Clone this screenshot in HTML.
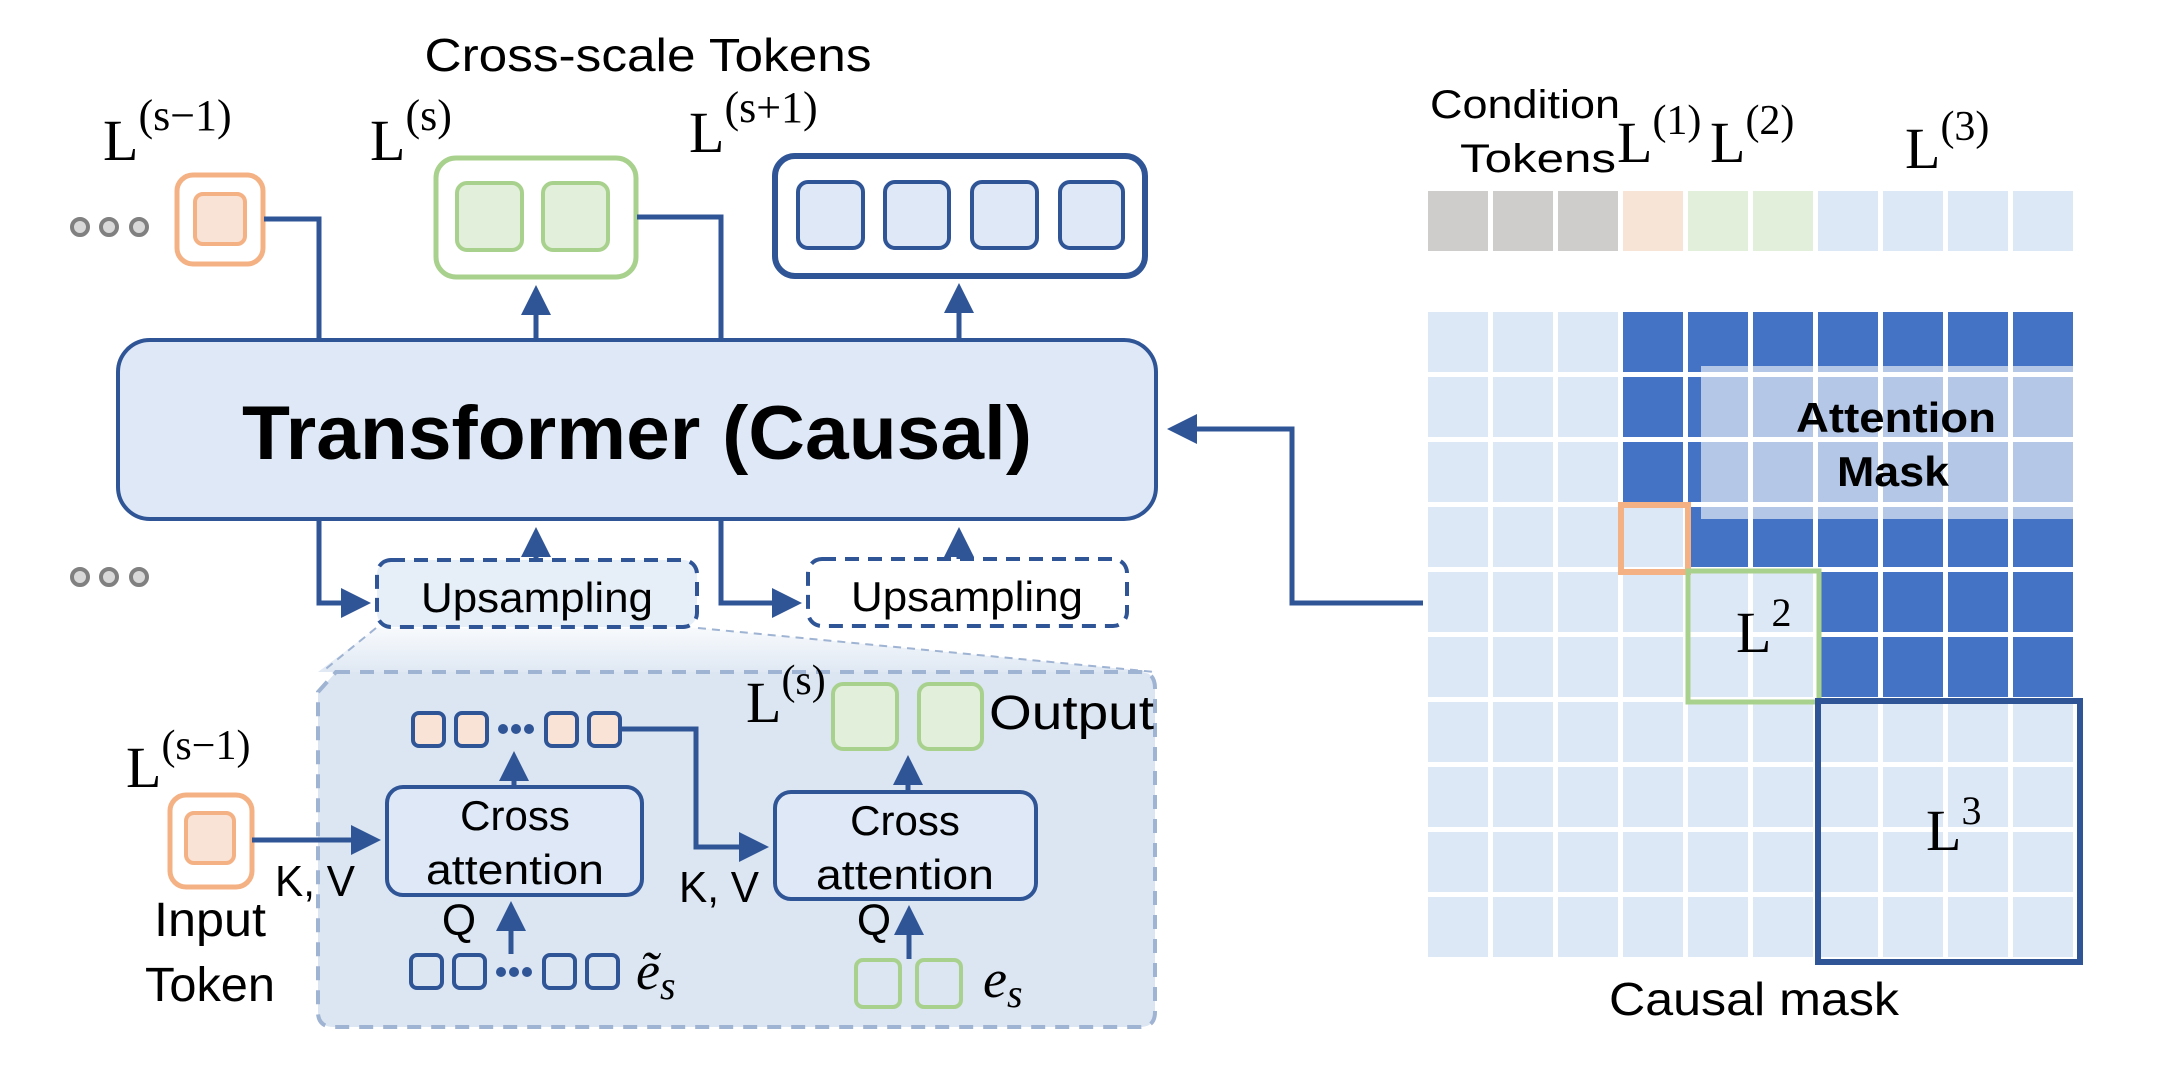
<!DOCTYPE html>
<html><head><meta charset="utf-8"><style>html,body{margin:0;padding:0;background:#fff}svg{display:block}</style></head>
<body>
<svg width="2163" height="1090" viewBox="0 0 2163 1090" xmlns="http://www.w3.org/2000/svg" font-family="Liberation Sans, sans-serif">
<defs>
<marker id="a" markerWidth="6" markerHeight="6" refX="5" refY="3" orient="auto" markerUnits="strokeWidth"><path d="M0,0 L6,3 L0,6 z" fill="#2f5597"/></marker>
<linearGradient id="fade" x1="0" y1="0" x2="0" y2="1"><stop offset="0" stop-color="#dce6f2" stop-opacity="0.2"/><stop offset="1" stop-color="#dce6f2" stop-opacity="0.9"/></linearGradient>
</defs>

<text x="648" y="71" font-size="46" text-anchor="middle" textLength="447" lengthAdjust="spacingAndGlyphs">Cross-scale Tokens</text>

<g font-family="Liberation Serif, serif">
<text x="103" y="160" font-size="58">L<tspan font-size="44" dy="-30">(s−1)</tspan></text>
<text x="370" y="160" font-size="58">L<tspan font-size="44" dy="-30">(s)</tspan></text>
<text x="689" y="152" font-size="58">L<tspan font-size="44" dy="-30">(s+1)</tspan></text>
</g>

<g fill="#d9d9d9" stroke="#808080" stroke-width="4">
<circle cx="80" cy="227" r="8"/><circle cx="109" cy="227" r="8"/><circle cx="139" cy="227" r="8"/>
<circle cx="80" cy="577" r="8"/><circle cx="109" cy="577" r="8"/><circle cx="139" cy="577" r="8"/>
</g>

<rect x="177" y="175" width="86" height="89" rx="16" fill="#fff" stroke="#f4b183" stroke-width="5"/>
<rect x="195" y="194" width="50" height="50" rx="8" fill="#f8e3d6" stroke="#f4b183" stroke-width="4"/>
<rect x="436" y="158" width="200" height="119" rx="20" fill="#fff" stroke="#a9d18e" stroke-width="5"/>
<rect x="457" y="183" width="65" height="67" rx="10" fill="#e2efda" stroke="#a9d18e" stroke-width="4"/>
<rect x="543" y="183" width="65" height="67" rx="10" fill="#e2efda" stroke="#a9d18e" stroke-width="4"/>
<rect x="775" y="156" width="370" height="120" rx="20" fill="#fff" stroke="#2f5597" stroke-width="6"/>
<g fill="#dee8f6" stroke="#2f5597" stroke-width="4">
<rect x="798" y="182" width="65" height="66" rx="10"/><rect x="885" y="182" width="64" height="66" rx="10"/>
<rect x="972" y="182" width="65" height="66" rx="10"/><rect x="1060" y="182" width="63" height="66" rx="10"/>
</g>

<g fill="none" stroke="#2f5597" stroke-width="5">
<polyline points="264,219 319,219 319,340"/>
<polyline points="637,217 721,217 721,340"/>
<line x1="536" y1="338" x2="536" y2="290" marker-end="url(#a)"/>
<line x1="959" y1="338" x2="959" y2="288" marker-end="url(#a)"/>
<polyline points="319,520 319,603 366,603" marker-end="url(#a)"/>
<polyline points="721,520 721,603 797,603" marker-end="url(#a)"/>
<line x1="536" y1="562" x2="536" y2="532" marker-end="url(#a)"/>
<line x1="959" y1="560" x2="959" y2="532" marker-end="url(#a)"/>
<polyline points="1423,603 1292,603 1292,429 1172,429" marker-end="url(#a)"/>
</g>

<rect x="118" y="340" width="1038" height="179" rx="32" fill="#dee8f6" stroke="#2f5597" stroke-width="4"/>
<text x="637" y="459" font-size="76" font-weight="bold" text-anchor="middle" textLength="790" lengthAdjust="spacingAndGlyphs">Transformer (Causal)</text>

<polygon points="376,628 698,628 1155,672 318,672" fill="url(#fade)"/>
<line x1="376" y1="628" x2="322" y2="672" stroke="#9fb3d3" stroke-width="2" stroke-dasharray="8,6"/>
<line x1="698" y1="628" x2="1155" y2="672" stroke="#9fb3d3" stroke-width="2" stroke-dasharray="8,6"/>

<rect x="377" y="560" width="320" height="67" rx="14" fill="#e6eef8" stroke="#2f5597" stroke-width="4" stroke-dasharray="14,9"/>
<rect x="808" y="559" width="319" height="67" rx="14" fill="#fff" stroke="#2f5597" stroke-width="4" stroke-dasharray="14,9"/>
<text x="537" y="612" font-size="42" text-anchor="middle" textLength="232" lengthAdjust="spacingAndGlyphs">Upsampling</text>
<text x="967" y="611" font-size="42" text-anchor="middle" textLength="232" lengthAdjust="spacingAndGlyphs">Upsampling</text>

<path d="M336,672 H1140 Q1155,672 1155,688 V1012 Q1155,1027 1140,1027 H334 Q318,1027 318,1012 V692 Z" fill="#dce6f2" stroke="#9fb3d3" stroke-width="4" stroke-dasharray="14,10"/>

<text x="126" y="787" font-size="58" font-family="Liberation Serif, serif">L<tspan font-size="42" dy="-28">(s−1)</tspan></text>
<rect x="170" y="795" width="82" height="92" rx="16" fill="#fff" stroke="#f4b183" stroke-width="5"/>
<rect x="186" y="813" width="48" height="50" rx="8" fill="#f8e3d6" stroke="#f4b183" stroke-width="4"/>
<text x="210" y="936" font-size="48" text-anchor="middle" textLength="112" lengthAdjust="spacingAndGlyphs">Input</text>
<text x="210" y="1001" font-size="48" text-anchor="middle" textLength="130" lengthAdjust="spacingAndGlyphs">Token</text>

<g fill="none" stroke="#2f5597" stroke-width="5">
<line x1="252" y1="840" x2="376" y2="840" marker-end="url(#a)"/>
<line x1="514" y1="786" x2="514" y2="756" marker-end="url(#a)"/>
<polyline points="620,729 696,729 696,847 764,847" marker-end="url(#a)"/>
<line x1="511" y1="954" x2="511" y2="906" marker-end="url(#a)"/>
<line x1="909" y1="959" x2="909" y2="910" marker-end="url(#a)"/>
<line x1="908" y1="791" x2="908" y2="760" marker-end="url(#a)"/>
</g>
<text x="275" y="896" font-size="44" textLength="80" lengthAdjust="spacingAndGlyphs">K, V</text>
<text x="679" y="902" font-size="44" textLength="80" lengthAdjust="spacingAndGlyphs">K, V</text>

<rect x="387" y="787" width="255" height="108" rx="16" fill="#dee8f6" stroke="#2f5597" stroke-width="4"/>
<rect x="775" y="792" width="261" height="107" rx="16" fill="#dee8f6" stroke="#2f5597" stroke-width="4"/>
<g font-size="42" text-anchor="middle">
<text x="515" y="830">Cross</text><text x="515" y="884" textLength="178" lengthAdjust="spacingAndGlyphs">attention</text>
<text x="905" y="835">Cross</text><text x="905" y="889" textLength="178" lengthAdjust="spacingAndGlyphs">attention</text>
</g>
<text x="459" y="935" font-size="44" text-anchor="middle">Q</text>
<text x="874" y="935" font-size="44" text-anchor="middle">Q</text>

<g stroke="#2f5597" stroke-width="4" fill="#f8e3d6">
<rect x="413" y="713" width="31" height="33" rx="6"/><rect x="456" y="713" width="31" height="33" rx="6"/>
<rect x="546" y="713" width="31" height="33" rx="6"/><rect x="589" y="713" width="31" height="33" rx="6"/>
</g>
<g fill="#2f5597"><circle cx="503" cy="729" r="5"/><circle cx="516" cy="729" r="5"/><circle cx="529" cy="729" r="5"/></g>
<g stroke="#2f5597" stroke-width="4" fill="none">
<rect x="411" y="955" width="31" height="33" rx="6"/><rect x="454" y="955" width="31" height="33" rx="6"/>
<rect x="544" y="955" width="31" height="33" rx="6"/><rect x="587" y="955" width="31" height="33" rx="6"/>
</g>
<g fill="#2f5597"><circle cx="501" cy="972" r="5"/><circle cx="514" cy="972" r="5"/><circle cx="527" cy="972" r="5"/></g>
<text x="636" y="989" font-size="54" font-style="italic" font-family="Liberation Serif, serif">ẽ<tspan font-size="40" dy="10">s</tspan></text>
<g stroke="#a9d18e" stroke-width="4" fill="none">
<rect x="856" y="960" width="44" height="47" rx="7"/><rect x="917" y="960" width="44" height="47" rx="7"/>
</g>
<text x="983" y="997" font-size="54" font-style="italic" font-family="Liberation Serif, serif">e<tspan font-size="40" dy="10">s</tspan></text>

<text x="746" y="722" font-size="58" font-family="Liberation Serif, serif">L<tspan font-size="42" dy="-28">(s)</tspan></text>
<g stroke="#a9d18e" stroke-width="4" fill="#e2efda">
<rect x="833" y="684" width="64" height="65" rx="10"/><rect x="919" y="684" width="63" height="65" rx="10"/>
</g>
<text x="989" y="729" font-size="48" textLength="165" lengthAdjust="spacingAndGlyphs">Output</text>

<text x="1430" y="118" font-size="40" textLength="190" lengthAdjust="spacingAndGlyphs">Condition</text>
<text x="1460" y="172" font-size="40" textLength="156" lengthAdjust="spacingAndGlyphs">Tokens</text>
<g font-family="Liberation Serif, serif">
<text x="1617" y="162" font-size="58">L<tspan font-size="42" dy="-28">(1)</tspan></text>
<text x="1710" y="162" font-size="58">L<tspan font-size="42" dy="-28">(2)</tspan></text>
<text x="1905" y="168" font-size="58">L<tspan font-size="42" dy="-28">(3)</tspan></text>
</g>
<g>
<rect x="1428" y="191" width="60" height="60" fill="#cfcdcc"/><rect x="1493" y="191" width="60" height="60" fill="#cfcdcc"/><rect x="1558" y="191" width="60" height="60" fill="#cfcdcc"/>
<rect x="1623" y="191" width="60" height="60" fill="#f8e4d7"/>
<rect x="1688" y="191" width="60" height="60" fill="#e2efdb"/><rect x="1753" y="191" width="60" height="60" fill="#e2efdb"/>
<rect x="1818" y="191" width="60" height="60" fill="#dde8f6"/><rect x="1883" y="191" width="60" height="60" fill="#dde8f6"/><rect x="1948" y="191" width="60" height="60" fill="#dde8f6"/><rect x="2013" y="191" width="60" height="60" fill="#dde8f6"/>
</g>

<rect x="1428" y="312" width="650" height="650" fill="#dde8f6"/>
<g fill="#4472c4">
<rect x="1623" y="312" width="455" height="195"/>
<rect x="1688" y="507" width="390" height="65"/>
<rect x="1818" y="572" width="260" height="130"/>
</g>
<rect x="1701" y="366" width="377" height="153" fill="#b4c7e7"/>
<g fill="#fff">
<rect x="1488" y="312" width="5" height="650"/><rect x="1553" y="312" width="5" height="650"/><rect x="1618" y="312" width="5" height="650"/>
<rect x="1683" y="312" width="5" height="650"/><rect x="1748" y="312" width="5" height="650"/><rect x="1813" y="312" width="5" height="650"/>
<rect x="1878" y="312" width="5" height="650"/><rect x="1943" y="312" width="5" height="650"/><rect x="2008" y="312" width="5" height="650"/>
<rect x="2073" y="312" width="5" height="650"/>
<rect x="1428" y="372" width="650" height="5"/><rect x="1428" y="437" width="650" height="5"/><rect x="1428" y="502" width="650" height="5"/>
<rect x="1428" y="567" width="650" height="5"/><rect x="1428" y="632" width="650" height="5"/><rect x="1428" y="697" width="650" height="5"/>
<rect x="1428" y="762" width="650" height="5"/><rect x="1428" y="827" width="650" height="5"/><rect x="1428" y="892" width="650" height="5"/>
<rect x="1428" y="957" width="650" height="5"/>
</g>
<text x="1896" y="432" font-size="42" font-weight="bold" text-anchor="middle" textLength="200" lengthAdjust="spacingAndGlyphs">Attention</text>
<text x="1893" y="486" font-size="42" font-weight="bold" text-anchor="middle" textLength="112" lengthAdjust="spacingAndGlyphs">Mask</text>
<rect x="1621" y="505" width="67" height="67" fill="none" stroke="#f4b183" stroke-width="6"/>
<rect x="1688" y="571" width="131" height="131" fill="none" stroke="#a9d18e" stroke-width="5"/>
<rect x="1818" y="701" width="262" height="261" fill="none" stroke="#2f5597" stroke-width="6"/>
<text x="1736" y="652" font-size="58" font-family="Liberation Serif, serif">L<tspan font-size="40" dy="-26">2</tspan></text>
<text x="1926" y="850" font-size="58" font-family="Liberation Serif, serif">L<tspan font-size="40" dy="-26">3</tspan></text>
<text x="1754" y="1015" font-size="46" text-anchor="middle" textLength="290" lengthAdjust="spacingAndGlyphs">Causal mask</text>
</svg>
</body></html>
